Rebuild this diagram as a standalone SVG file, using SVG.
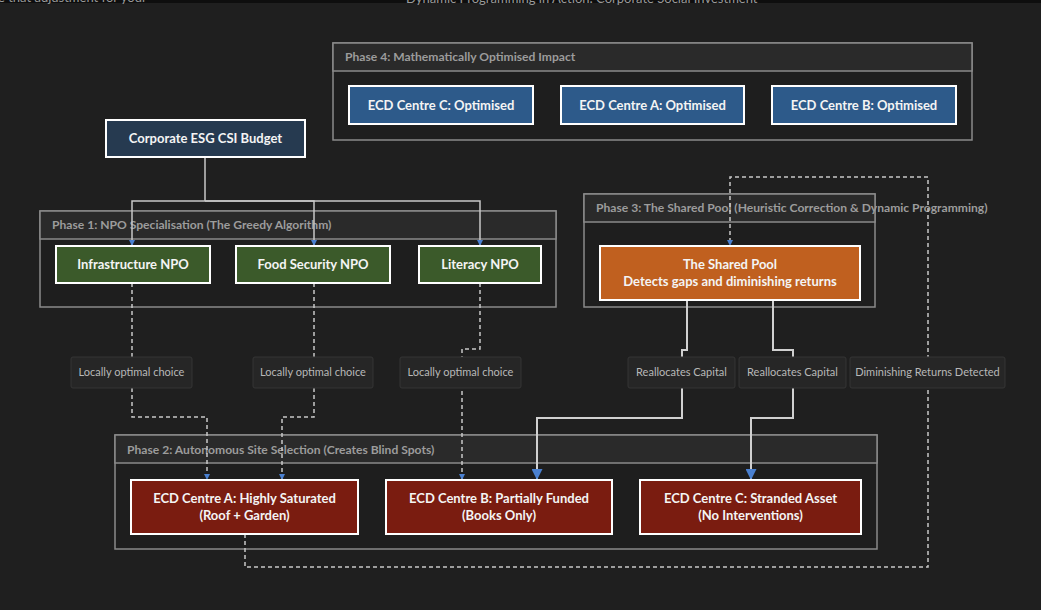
<svg xmlns="http://www.w3.org/2000/svg" width="1041" height="610" viewBox="0 0 1041 610">
<defs>
<style>
.bg{fill:#1f1f1f}
.cl{fill:#1e1e1e;stroke:#8a8a8a;stroke-width:1.5}
.hd{fill:#2a2a2a;stroke:#8a8a8a;stroke-width:1.5}
.ct{font-family:Lato,"Liberation Sans",sans-serif;font-weight:700;font-size:12.1px;fill:#9c9c9c}
.nd{stroke:#ffffff;stroke-width:2}
.nt{font-family:Lato,"Liberation Sans",sans-serif;font-weight:700;font-size:13px;fill:#f4f4f4;text-anchor:middle}
.e{fill:none;stroke:#c8c8c8;stroke-width:1.5}
.ed{fill:none;stroke:#c8c8c8;stroke-width:1.5;stroke-dasharray:4 3}
.et{fill:none;stroke:#d0d0d0;stroke-width:2}
.lb{fill:#262626;stroke:#353535;stroke-width:1}
.lt{font-family:Lato,"Liberation Sans",sans-serif;font-size:11px;fill:#b8b8b8;text-anchor:middle}
.top{font-family:Lato,"Liberation Sans",sans-serif;font-size:13px;fill:#9a9a9a}
</style>
<marker id="as" viewBox="0 0 10 10" refX="10" refY="5" markerWidth="6" markerHeight="6" markerUnits="userSpaceOnUse" orient="auto"><path d="M0,0L10,5L0,10z" fill="#4a80d0"/></marker>
<marker id="al" viewBox="0 0 10 10" refX="10" refY="5" markerWidth="13" markerHeight="11" markerUnits="userSpaceOnUse" orient="auto"><path d="M0,0L10,5L0,10z" fill="#4a80d0"/></marker>
</defs>
<rect class="bg" x="0" y="0" width="1041" height="610"/>
<rect x="0" y="0" width="1041" height="3" fill="#0e0e0e"/>
<text class="top" x="-2" y="2">e that adjustment for your</text>
<text class="top" x="406" y="3">Dynamic Programming in Action: Corporate Social Investment</text>

<g id="clusters">
<g id="phase4"><rect class="cl" x="333" y="43" width="639" height="97"/><rect class="hd" x="333" y="43" width="639" height="28"/><text class="ct" x="345" y="61">Phase 4: Mathematically Optimised Impact</text></g>
<g id="phase1"><rect class="cl" x="40" y="211" width="516" height="96"/><rect class="hd" x="40" y="211" width="516" height="28"/><text class="ct" x="52" y="229">Phase 1: NPO Specialisation (The Greedy Algorithm)</text></g>
<g id="phase3"><rect class="cl" x="584" y="194" width="291" height="113"/><rect class="hd" x="584" y="194" width="291" height="28"/><text class="ct" x="596" y="212">Phase 3: The Shared Pool (Heuristic Correction &amp; Dynamic Programming)</text></g>
<g id="phase2"><rect class="cl" x="115" y="435" width="762" height="114"/><rect class="hd" x="115" y="435" width="762" height="28"/><text class="ct" x="127" y="454">Phase 2: Autonomous Site Selection (Creates Blind Spots)</text></g>
</g>

<g id="connectors">
<path class="e" d="M205,157V201M205,201H132V246" marker-end="url(#as)"/>
<path class="e" d="M205,201H314V246" marker-end="url(#as)"/>
<path class="e" d="M205,201H480V246" marker-end="url(#as)"/>
<path class="ed" d="M132,283V417H207V480" marker-end="url(#as)"/>
<path class="ed" d="M314,283V417H282V480" marker-end="url(#as)"/>
<path class="ed" d="M480,283V349H462V480" marker-end="url(#as)"/>
<path class="et" d="M687,301V350H682V418H537V480" marker-end="url(#al)"/>
<path class="et" d="M773,301V350H793V418H751V480" marker-end="url(#al)"/>
<path class="ed" d="M245,534V567H928V177H730V246" marker-end="url(#as)"/>
<g id="labels">
<rect class="lb" x="71" y="357" width="121" height="31" rx="2"/><text class="lt" x="131.5" y="376">Locally optimal choice</text>
<rect class="lb" x="253" y="357" width="120" height="31" rx="2"/><text class="lt" x="313" y="376">Locally optimal choice</text>
<rect class="lb" x="400" y="357" width="121" height="31" rx="2"/><text class="lt" x="460.5" y="376">Locally optimal choice</text>
<rect class="lb" x="628" y="357" width="107" height="31" rx="2"/><text class="lt" x="681.5" y="376">Reallocates Capital</text>
<rect class="lb" x="739" y="357" width="107" height="31" rx="2"/><text class="lt" x="792.5" y="376">Reallocates Capital</text>
<rect class="lb" x="850" y="357" width="155" height="31" rx="2"/><text class="lt" x="927.5" y="376">Diminishing Returns Detected</text>
</g>
</g>

<g id="budget"><rect class="nd" x="106" y="120" width="199" height="37" fill="#263a50"/><text class="nt" x="205.5" y="143">Corporate ESG CSI Budget</text></g>
<g id="npo_infra"><rect class="nd" x="56" y="246" width="154" height="37" fill="#3b5a2a"/><text class="nt" x="133" y="269">Infrastructure NPO</text></g>
<g id="npo_food"><rect class="nd" x="236" y="246" width="154" height="37" fill="#3b5a2a"/><text class="nt" x="313" y="269">Food Security NPO</text></g>
<g id="npo_lit"><rect class="nd" x="419" y="246" width="122" height="37" fill="#3b5a2a"/><text class="nt" x="480" y="269">Literacy NPO</text></g>
<g id="pool"><rect class="nd" x="600" y="246" width="260" height="54" fill="#c0601f"/><text class="nt" x="730" y="269">The Shared Pool</text><text class="nt" x="730" y="286">Detects gaps and diminishing returns</text></g>
<g id="centreA"><rect class="nd" x="131" y="480" width="227" height="54" fill="#7a1c10"/><text class="nt" x="244.5" y="503">ECD Centre A: Highly Saturated</text><text class="nt" x="244.5" y="520">(Roof + Garden)</text></g>
<g id="centreB"><rect class="nd" x="386" y="480" width="226" height="54" fill="#7a1c10"/><text class="nt" x="499" y="503">ECD Centre B: Partially Funded</text><text class="nt" x="499" y="520">(Books Only)</text></g>
<g id="centreC"><rect class="nd" x="640" y="480" width="221" height="54" fill="#7a1c10"/><text class="nt" x="750.5" y="503">ECD Centre C: Stranded Asset</text><text class="nt" x="750.5" y="520">(No Interventions)</text></g>
<g id="optC"><rect class="nd" x="349" y="86" width="184" height="38" fill="#2d5a8a"/><text class="nt" x="441" y="110">ECD Centre C: Optimised</text></g>
<g id="optA"><rect class="nd" x="561" y="86" width="183" height="38" fill="#2d5a8a"/><text class="nt" x="652.5" y="110">ECD Centre A: Optimised</text></g>
<g id="optB"><rect class="nd" x="772" y="86" width="184" height="38" fill="#2d5a8a"/><text class="nt" x="864" y="110">ECD Centre B: Optimised</text></g>
</svg>
